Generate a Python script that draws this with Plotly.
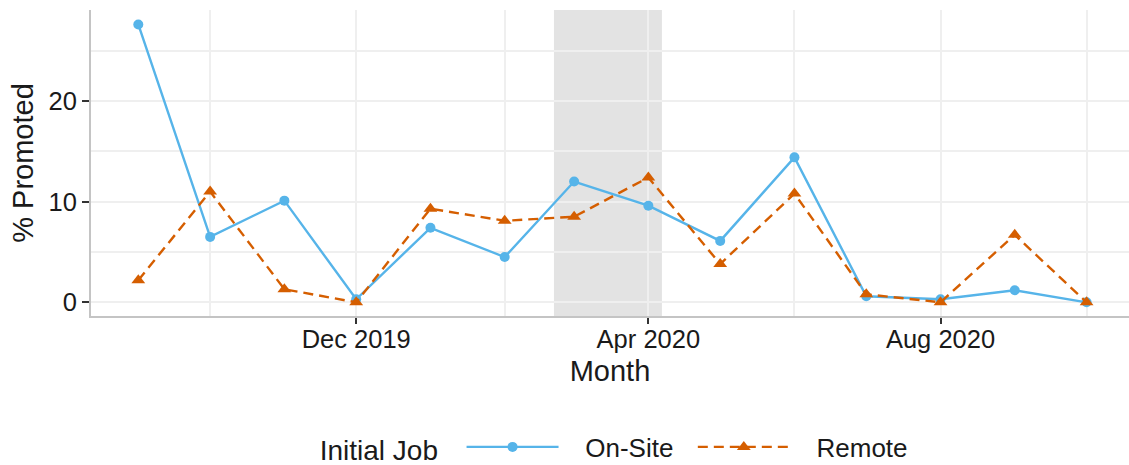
import plotly.graph_objects as go

months = ["2019-09-01", "2019-10-01", "2019-11-01", "2019-12-01", "2020-01-01",
          "2020-02-01", "2020-03-01", "2020-04-01", "2020-05-01", "2020-06-01",
          "2020-07-01", "2020-08-01", "2020-09-01", "2020-10-01"]
onsite = [27.6, 6.5, 10.1, 0.3, 7.4, 4.5, 12.0, 9.6, 6.1, 14.4, 0.6, 0.3, 1.2, 0.0]
remote = [2.2, 11.0, 1.3, 0.0, 9.3, 8.1, 8.5, 12.4, 3.8, 10.8, 0.8, 0.0, 6.7, 0.0]

shade_start = "2020-02-21 14:00"
shade_end = "2020-04-06 16:00"

tick_vals = ["2019-12-01", "2020-04-01", "2020-08-01"]
tick_text = ["Dec 2019", "Apr 2020", "Aug 2020"]
minor_x = ["2019-10-01", "2020-02-01", "2020-06-01", "2020-10-01"]

BLUE = "#56B4E9"
ORANGE = "#D55E00"
FONT = "Liberation Sans, Arial, sans-serif"
NB = "\u00a0"
GRID = "#efefef"

fig = go.Figure()

fig.add_trace(go.Scatter(
    x=months, y=onsite, name=NB * 3 + "On-Site" + NB * 2, mode="lines+markers",
    line=dict(color=BLUE, width=2.4),
    marker=dict(symbol="circle", size=10, color=BLUE),
))
fig.add_trace(go.Scatter(
    x=months, y=remote, name=NB * 3 + "Remote", mode="lines+markers",
    line=dict(color=ORANGE, width=2.4, dash="10px,6px"),
    marker=dict(symbol="triangle-up", size=12, color=ORANGE),
))

fig.add_shape(type="rect", xref="x", yref="paper",
              x0=shade_start, x1=shade_end, y0=0, y1=1,
              fillcolor="#e3e3e3", line_width=0, layer="between")
fig.add_shape(type="line", xref="paper", yref="y",
              x0=0, x1=1, y0=0, y1=0,
              line=dict(color="#a8a8a8", width=1.6), layer="between")

fig.update_layout(
    width=1129, height=465,
    margin=dict(l=91, r=0, t=10, b=149, autoexpand=False),
    paper_bgcolor="white", plot_bgcolor="white",
    font=dict(family=FONT, color="#1a1a1a"),
    showlegend=True,
    legend=dict(
        orientation="h", xref="paper", x=0.505, xanchor="center",
        yref="container", y=18 / 465, yanchor="middle",
        title=dict(text="Initial Job" + NB * 2, font=dict(size=28, color="#1a1a1a"), side="left"),
        font=dict(size=26, color="#1a1a1a"),
        itemwidth=92,
    ),
)

fig.update_xaxes(
    type="date", automargin=False,
    range=["2019-08-12 06:00", "2020-10-18 17:00"],
    tickmode="array", tickvals=tick_vals, ticktext=tick_text,
    tickfont=dict(size=25.5, color="#1a1a1a"),
    ticks="outside", ticklen=6, tickwidth=1.6, tickcolor="#333333",
    ticklabelstandoff=-7,
    showgrid=True, gridcolor=GRID, gridwidth=1.8,
    minor=dict(tickmode="array", tickvals=minor_x,
               showgrid=True, gridcolor=GRID, gridwidth=1.8, ticks=""),
    showline=True, linecolor="#c4c4c4", linewidth=2,
    zeroline=False,
    title=dict(text="Month", font=dict(size=29, color="#1a1a1a"), standoff=9),
)

fig.update_yaxes(
    automargin=False,
    range=[-1.36, 29.04],
    tickmode="array", tickvals=[0, 10, 20], ticktext=["0", "10", "20"],
    tickfont=dict(size=25.5, color="#1a1a1a"),
    ticks="outside", ticklen=7, tickwidth=1.6, tickcolor="#333333",
    showgrid=True, gridcolor=GRID, gridwidth=1.8,
    minor=dict(tickmode="array", tickvals=[5, 15, 25],
               showgrid=True, gridcolor=GRID, gridwidth=1.8, ticks=""),
    showline=True, linecolor="#c4c4c4", linewidth=2,
    zeroline=False,
    title=dict(text="% Promoted", font=dict(size=29, color="#1a1a1a"), standoff=6),
)

fig.write_html("out.html", config={"displayModeBar": False},
               post_script="document.body.style.margin='0';document.body.style.overflow='hidden';")
